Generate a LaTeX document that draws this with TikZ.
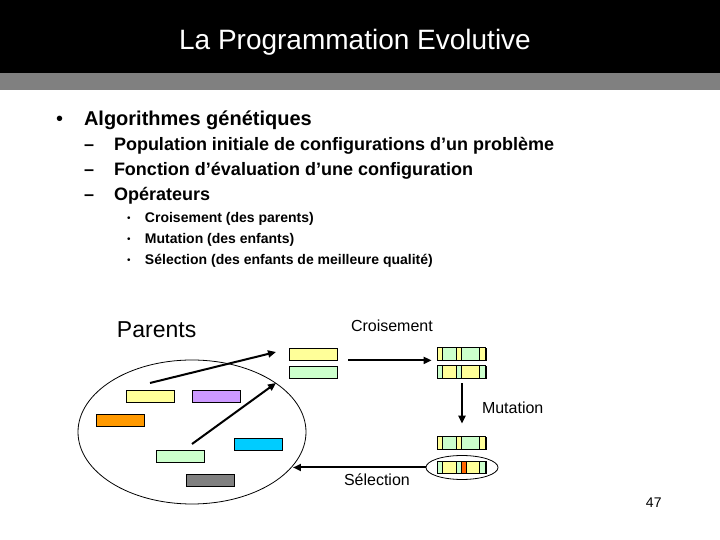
\documentclass[tikz,border=0pt]{standalone}
\usepackage{fontspec}
\setmainfont{Liberation Sans}
\usetikzlibrary{arrows.meta,calc,shapes.geometric}
\definecolor{geneY}{HTML}{FFFF99}
\definecolor{geneG}{HTML}{CCFFCC}
\definecolor{geneP}{HTML}{CC99FF}
\definecolor{geneO}{HTML}{FF9900}
\definecolor{geneC}{HTML}{00CCFF}
\definecolor{geneK}{HTML}{808080}
\definecolor{geneM}{HTML}{FF6600}
\tikzset{
  chromo/.style={draw,thin,rectangle,minimum width=24pt,minimum height=6pt,inner sep=0pt},
  txt/.style={anchor=base west,inner sep=0pt},
  lvlone/.style={txt,font=\bfseries\fontsize{10}{12}\selectfont},
  lvltwo/.style={txt,font=\bfseries\fontsize{9}{11}\selectfont},
  lvlthree/.style={txt,font=\bfseries\fontsize{7}{8}\selectfont},
  lbl/.style={txt,font=\fontsize{8}{10}\selectfont}
}

\begin{document}
\begin{tikzpicture}[x=0.5pt,y=-0.5pt,>={Triangle[length=4pt,width=3.5pt]},line width=1pt]
  \useasboundingbox (0,0) rectangle (720,540);
  % title band
  \fill[black] (0,0) rectangle (720,73);
  \fill[geneK] (0,73) rectangle (720,90);
  \node[white,font=\fontsize{14}{16}\selectfont] (title) at (355,42) {La Programmation Evolutive};

  % bullet list
  \node[txt,font=\fontsize{10}{12}\selectfont] (b0) at (55,126) {•};
  \node[lvlone] (l0) at (83,126) {Algorithmes génétiques};
  \node[lvltwo] (d1) at (83,151) {–};
  \node[lvltwo] (l1) at (113,151) {Population initiale de configurations d’un problème};
  \node[lvltwo] (d2) at (83,176) {–};
  \node[lvltwo] (l2) at (113,176) {Fonction d’évaluation d’une configuration};
  \node[lvltwo] (d3) at (83,201) {–};
  \node[lvltwo] (l3) at (113,201) {Opérateurs};
  \foreach \yy/\tt [count=\i] in {223/Croisement (des parents),244/Mutation (des enfants),265/Sélection (des enfants de meilleure qualité)}{
    \node[txt,font=\fontsize{5}{6}\selectfont] (s\i) at (126,\yy-1) {•};
    \node[lvlthree] (t\i) at (144,\yy) {\tt};
  }

  % population
  \node[ellipse,draw,thin,minimum width=114pt,minimum height=72pt,inner sep=0pt] (pop) at (192,432) {};
  \node[chromo,fill=geneY] (iy) at (150.5,396.5) {};
  \node[chromo,fill=geneP] (ip) at (216.5,396.5) {};
  \node[chromo,fill=geneO] (io) at (120.5,420.5) {};
  \node[chromo,fill=geneC] (ic) at (258.5,444.5) {};
  \node[chromo,fill=geneG] (ig) at (180.5,456.5) {};
  \node[chromo,fill=geneK] (ik) at (210,480.5) {};
  \node[txt,font=\fontsize{11.5}{13}\selectfont] (par) at (116,338) {Parents};

  % parents and children
  \node[chromo,fill=geneY] (p1) at (313,354) {};
  \node[chromo,fill=geneG] (p2) at (313,372) {};
  \node[chromo] (c1) at (462,354) {};
  \node[chromo] (c2) at (462,372) {};
  \node[chromo] (c3) at (462,443) {};
  \node[chromo] (c4) at (462,467.5) {};
  \foreach \a/\b/\c in {0/5/geneY,5/19/geneG,19/24/geneY,24/42/geneG,42/48/geneY}{
    \draw[thin,fill=\c] ($(c1.south west)+(\a,0)$) rectangle ($(c1.north west)+(\b,0)$);
    \draw[thin,fill=\c] ($(c3.south west)+(\a,0)$) rectangle ($(c3.north west)+(\b,0)$);
  }
  \foreach \a/\b/\c in {0/5/geneG,5/19/geneY,19/24/geneG,24/42/geneY,42/48/geneG}
    \draw[thin,fill=\c] ($(c2.south west)+(\a,0)$) rectangle ($(c2.north west)+(\b,0)$);
  \foreach \a/\b/\c in {0/5/geneG,5/19/geneY,19/24/geneG,24/29/geneM,29/42/geneY,42/48/geneG}
    \draw[thin,fill=\c] ($(c4.south west)+(\a,0)$) rectangle ($(c4.north west)+(\b,0)$);
  \node[ellipse,draw,thin,minimum width=36pt,minimum height=12pt,inner sep=0pt] (sel) at (462,467.5) {};

  % operators
  \node[lbl] (cro) at (350,332) {Croisement};
  \node[lbl] (mut) at (481,414) {Mutation};
  \node[lbl] (slc) at (343,486) {Sélection};
  \node[txt,font=\fontsize{7}{8}\selectfont] (pg) at (645,508) {47};

  \coordinate (f1) at (150,383);
  \coordinate (e1) at (276,352);
  \coordinate (f2) at (192,444);
  \coordinate (e2) at (276,383);
  \coordinate (e3) at (293,467.5);
  \draw[->] (f1)--(e1);
  \draw[->] (f2)--(e2);
  \draw[->,shorten <=5.5pt,shorten >=3pt] (p1.south east)--(c1.south west);
  \draw[->,shorten <=2.5pt,shorten >=6.5pt] (c2.south)--(c3.north);
  \draw[->] (sel.west)--(e3);
\end{tikzpicture}
\end{document}
